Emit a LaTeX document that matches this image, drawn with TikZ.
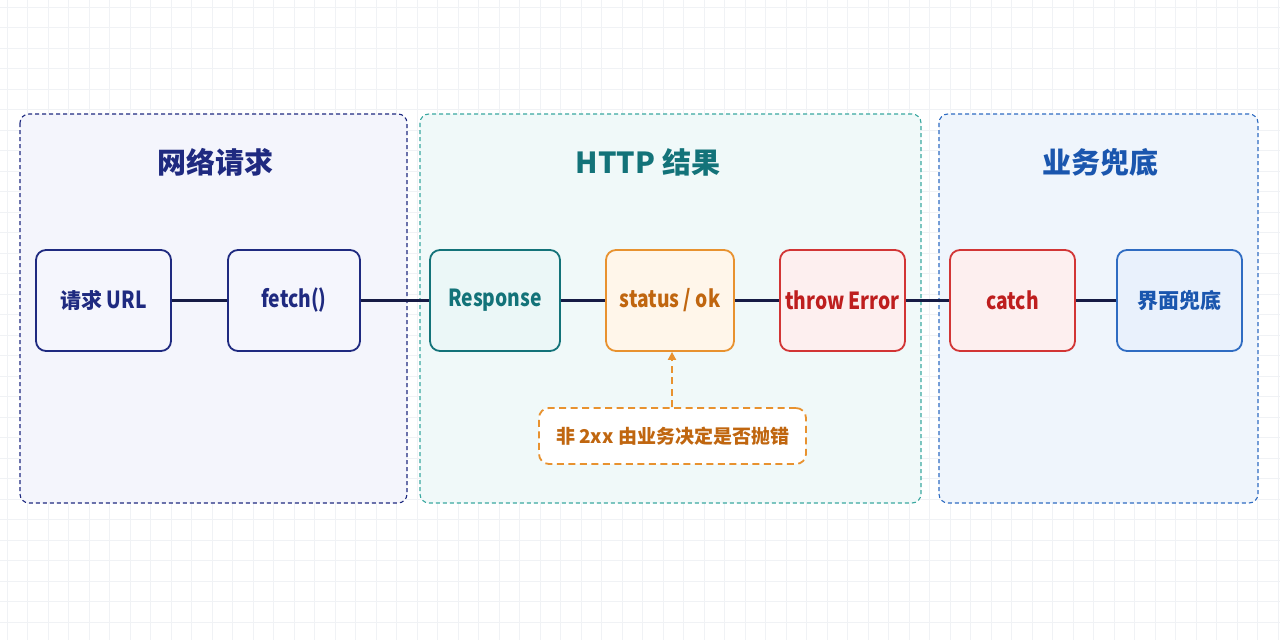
\documentclass[tikz,border=0pt]{standalone}
\usepackage{fontspec}
\setmainfont{Noto Sans CJK SC}
\newfontfamily\latfont{Noto Sans CJK SC}[FakeStretch=0.82]
\usetikzlibrary{arrows.meta}
\definecolor{navy}{HTML}{1F2A80}
\definecolor{navyfill}{HTML}{F5F6FD}
\definecolor{navybg}{HTML}{F4F5FC}
\definecolor{teal}{HTML}{137379}
\definecolor{tealfill}{HTML}{EBF7F7}
\definecolor{tealbg}{HTML}{F0F9F9}
\definecolor{tealborder}{HTML}{3AA8A0}
\definecolor{orangeB}{HTML}{E8922F}
\definecolor{orangeT}{HTML}{C0660F}
\definecolor{orangefill}{HTML}{FFF6EA}
\definecolor{redB}{HTML}{D23535}
\definecolor{redT}{HTML}{BE1E1E}
\definecolor{redfill}{HTML}{FDEFEF}
\definecolor{blueB}{HTML}{2F6CC2}
\definecolor{blueT}{HTML}{1A56AE}
\definecolor{bluefill}{HTML}{E9F1FC}
\definecolor{bluebg}{HTML}{EFF5FC}
\definecolor{linecol}{HTML}{161B45}
\definecolor{gridcol}{HTML}{F0F2F5}
\newcommand{\lt}[1]{{\latfont\fontsize{23.5}{26}\selectfont #1}}
\tikzset{
  grp/.style={line width=1.1pt, rounded corners=9pt, dash pattern=on 4pt off 3pt},
  title/.style={font=\fontsize{29}{32}\selectfont\bfseries, anchor=center},
  box/.style={draw, line width=1.8pt, rounded corners=10pt, minimum height=101pt, inner sep=0pt,
    font=\fontsize{21}{24}\selectfont\bfseries, anchor=center},
  link/.style={draw=linecol, line width=2.6pt},
}
\begin{document}
\begin{tikzpicture}[x=1pt,y=-1pt]
\useasboundingbox (0,0) rectangle (1280,640);
\fill[white] (0,0) rectangle (1280,640);
\begin{scope}[shift={(7,7)}]
\draw[gridcol, line width=0.8pt] (-7,-7) grid[step=20.5pt] (1280,640);
\end{scope}
% groups
\filldraw[grp, draw=navy, fill=navybg] (20,114) rectangle (407,503);
\filldraw[grp, draw=tealborder, fill=tealbg] (420,114) rectangle (921,503);
\filldraw[grp, draw=blueB, fill=bluebg] (939,114) rectangle (1258,503);
% titles
\node[title, text=navy] (t1) at (215,162) {网络请求};
\node[title, text=teal] (t2) at (648,162) {HTTP 结果};
\node[title, text=blueT] (t3) at (1100,162) {业务兜底};
% boxes
\node[box, draw=navy, fill=navyfill, text=navy, minimum width=135pt] (url) at (103.5,300.5) {请求 \lt{URL}};
\node[box, draw=navy, fill=navyfill, text=navy, minimum width=132pt] (fetch) at (294,300.5) {\lt{fetch()}};
\node[box, draw=teal, fill=tealfill, text=teal, minimum width=130pt] (resp) at (495,300.5) {\lt{Response}};
\node[box, draw=orangeB, fill=orangefill, text=orangeT, minimum width=128pt] (status) at (670,300.5) {\lt{status / ok}};
\node[box, draw=redB, fill=redfill, text=redT, minimum width=125pt] (throw) at (842.5,300.5) {\lt{throw Error}};
\node[box, draw=redB, fill=redfill, text=redT, minimum width=125pt] (catch) at (1012.5,300.5) {\lt{catch}};
\node[box, draw=blueB, fill=bluefill, text=blueT, minimum width=125pt] (ui) at (1179.5,300.5) {界面兜底};
% links
\path[link] (url) -- (fetch);
\path[link] (fetch) -- (resp);
\path[link] (resp) -- (status);
\path[link] (status) -- (throw);
\path[link] (throw) -- (catch);
\path[link] (catch) -- (ui);
% note
\node[draw=orangeB, fill=white, line width=1.8pt, dash pattern=on 7pt off 4.5pt, rounded corners=10pt,
  minimum width=267pt, minimum height=56pt, inner sep=0pt, text=orangeT,
  font=\fontsize{19}{22}\selectfont\bfseries] (note) at (672.5,436) {非 2xx 由业务决定是否抛错};
\draw[orangeB, line width=1.8pt, dash pattern=on 7pt off 4.5pt, -{Triangle[length=8pt,width=8pt]}]
  (note.north -| 672,0) -- (status.south -| 672,0);
\end{tikzpicture}
\end{document}
